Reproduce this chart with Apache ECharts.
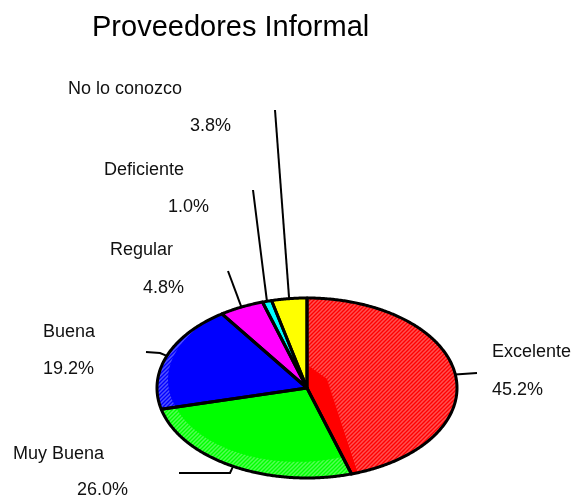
<!DOCTYPE html>
<html>
<head>
<meta charset="utf-8">
<script src="https://cdn.jsdelivr.net/npm/echarts@6/dist/echarts.min.js"></script>
<style>
html,body{margin:0;padding:0;background:#fff;}
#chart{width:576px;height:501px;}
</style>
</head>
<body>
<div id="chart"></div>
<script>
// ---- data ----
var titleText = 'Proveedores Informal';
var categories = ['Excelente', 'Muy Buena', 'Buena', 'Regular', 'Deficiente', 'No lo conozco'];
var values = [45.2, 26.0, 19.2, 4.8, 1.0, 3.8];

// ---- styling / layout (not data) ----
var colors = ['#FF0000', '#00FF00', '#0000FF', '#FF00FF', '#00FFFF', '#FFFF00'];
var FONT = '"Liberation Sans", Arial, sans-serif';
var pie = { cx: 307, cy: 388, rx: 150, ry: 90 };
var labelLayout = [
  { name: [492, 352], value: [492, 390], leader: [[477, 373]] },
  { name: [13, 454],  value: [77, 490],  leader: [[230, 473], [179, 473]] },
  { name: [43, 332],  value: [43, 369],  leader: [[160, 353], [146, 352]] },
  { name: [110, 250], value: [143, 288], leader: [[228, 271]] },
  { name: [104, 170], value: [168, 207], leader: [[253, 190]] },
  { name: [68, 89],   value: [190, 126], leader: [[275, 110]] }
];
// shaded "3D side" bands: fraction of slice where band starts/ends, band depth at start/end,
// optional extra corner offsets (relative to pie centre) closing a full wedge
var shading = [
  { from: 0.0, to: 0.985, w0: 1, w1: 1, corner: [[20, -9], [2, -22]] },
  { from: 0.0, to: 1.0, w0: 0.2, w1: 0.1 },
  { from: 0.0, to: 0.9, w0: 0.1, w1: 0.0 },
  null, null, null
];

// stripe pattern used for the shaded bands
var patCanvas = document.createElement('canvas');
patCanvas.width = 4; patCanvas.height = 4;
(function () {
  var c = patCanvas.getContext('2d');
  c.strokeStyle = 'rgba(255,255,255,0.32)';
  c.lineWidth = 1.5;
  c.beginPath();
  c.moveTo(-1, 5); c.lineTo(5, -1);
  c.moveTo(3, 5); c.lineTo(5, 3);
  c.moveTo(-1, 1); c.lineTo(1, -1);
  c.stroke();
})();
var stripeFill = { image: patCanvas, repeat: 'repeat' };

var total = values.reduce(function (a, b) { return a + b; }, 0);
var cum = [];
(function () { var s = 0; values.forEach(function (v) { cum.push(s); s += v; }); })();

function ellPt(frac, w) {
  var t = frac * Math.PI * 2;
  var k = 1 - (w || 0);
  return [pie.cx + k * pie.rx * Math.sin(t), pie.cy - k * pie.ry * Math.cos(t)];
}
function arc(f0, f1, w0, w1) {
  var pts = [];
  var steps = Math.max(2, Math.ceil(Math.abs(f1 - f0) * 720));
  for (var k = 0; k <= steps; k++) {
    var u = k / steps;
    pts.push(ellPt(f0 + (f1 - f0) * u, (w0 || 0) + ((w1 || 0) - (w0 || 0)) * u));
  }
  return pts;
}

var chart = echarts.init(document.getElementById('chart'), null, { renderer: 'canvas' });

chart.setOption({
  backgroundColor: '#ffffff',
  animation: false,
  title: {
    text: titleText,
    left: 92,
    top: 13,
    padding: 0,
    textStyle: { fontFamily: FONT, fontSize: 29, fontWeight: 'normal', color: '#000' }
  },
  series: [{
    type: 'custom',
    coordinateSystem: 'none',
    data: values.map(function (v, i) { return { name: categories[i], value: [v] }; }),
    renderItem: function (params, api) {
      var i = params.dataIndex;
      var v = api.value(0);
      var f0 = cum[i] / total, f1 = (cum[i] + v) / total;
      var slice = [[pie.cx, pie.cy]].concat(arc(f0, f1));
      var lay = labelLayout[i];
      var start = ellPt((f0 + f1) / 2);
      var leaderPts = [start].concat(lay.leader);
      var pct = (v / total * 100).toFixed(1) + '%';
      var children = [
        {
          type: 'polygon', z2: 0,
          shape: { points: slice },
          style: { fill: colors[i], stroke: colors[i], lineWidth: 0.5 }
        }
      ];
      var sh = shading[i];
      if (sh) {
        var a = f0 + (f1 - f0) * sh.from, b = f0 + (f1 - f0) * sh.to;
        var outer = arc(a, b);
        var inner;
        if (sh.corner) {
          inner = sh.corner.map(function (d) { return [pie.cx + d[0], pie.cy + d[1]]; });
        } else if (sh.w0 >= 1) {
          inner = [[pie.cx, pie.cy]];
        } else {
          inner = arc(b, a, sh.w1, sh.w0);
        }
        children.push({
          type: 'polygon', z2: 1,
          shape: { points: outer.concat(inner) },
          style: { fill: stripeFill }
        });
      }
      children.push(
        {
          type: 'polygon', z2: 2,
          shape: { points: slice },
          style: { fill: null, stroke: '#000', lineWidth: 3, lineJoin: 'round' }
        },
        {
          type: 'polyline', z2: 2,
          shape: { points: leaderPts },
          style: { fill: null, stroke: '#000', lineWidth: 2 }
        },
        {
          type: 'text', z2: 3,
          style: { text: categories[i], x: lay.name[0], y: lay.name[1], align: 'left', verticalAlign: 'middle',
                   font: '18px ' + FONT, fill: '#111' }
        },
        {
          type: 'text', z2: 3,
          style: { text: pct, x: lay.value[0], y: lay.value[1], align: 'left', verticalAlign: 'middle',
                   font: '18px ' + FONT, fill: '#111' }
        }
      );
      return { type: 'group', children: children };
    }
  }]
});
</script>
</body>
</html>
